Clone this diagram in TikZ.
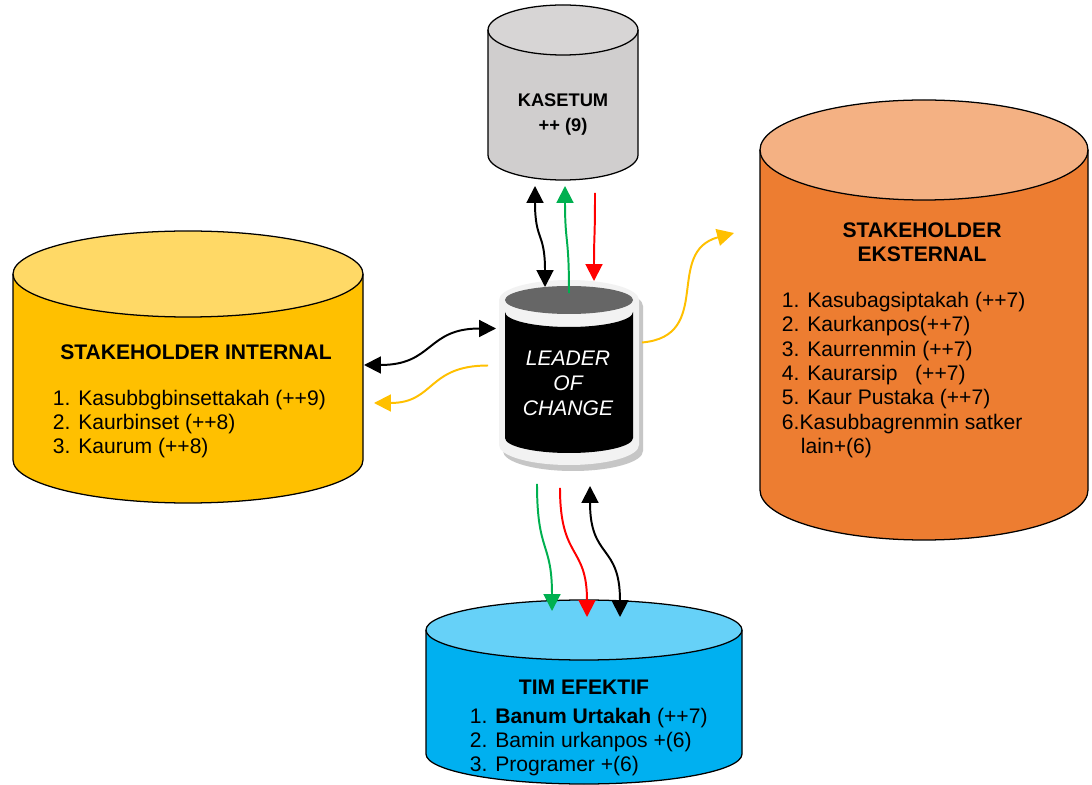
\documentclass[tikz,border=0pt]{standalone}
\usepackage{fontspec}
\setmainfont{Liberation Sans}
\usepackage{tikz}
\usetikzlibrary{calc,arrows.meta,fit}

\definecolor{kuning}{HTML}{FFC000}
\definecolor{kuningmuda}{HTML}{FFD966}
\definecolor{oranye}{HTML}{ED7D31}
\definecolor{oranyemuda}{HTML}{F4B183}
\definecolor{biru}{HTML}{00B0F0}
\definecolor{birumuda}{HTML}{66D1F8}
\definecolor{abu}{HTML}{D0CECE}
\definecolor{hijau}{HTML}{00B050}
\definecolor{merah}{HTML}{FF0000}

% drum: name, cx, top y, bottom y, rx, ry, body colour, top colour
\newcommand{\drum}[8]{%
  \fill[#7](#2-#5,#3)--(#2-#5,#4)arc[start angle=180,end angle=360,x radius=#5,y radius=#6]--(#2+#5,#3)--cycle;
  \fill[#8](#2,#3)ellipse[x radius=#5,y radius=#6];
  \draw[line width=0.9pt](#2-#5,#3)--(#2-#5,#4)arc[start angle=180,end angle=360,x radius=#5,y radius=#6]--(#2+#5,#3);
  \draw[line width=0.9pt](#2,#3)ellipse[x radius=#5,y radius=#6];
  \node[fit={(#2-#5,#3+#6)(#2+#5,#4-#6)},inner sep=0pt](#1){};
}

\tikzset{
  judul/.style={font=\fontsize{15}{17}\selectfont\bfseries,align=center},
  daftar/.style={font=\fontsize{15}{17.3}\selectfont,align=left,anchor=west,inner sep=0pt},
}

\begin{document}
\begin{tikzpicture}[x=0.025cm,y=0.025cm,>={Triangle[length=12pt,width=12pt]},line width=1.4pt]
    \fill[white](0,0)rectangle(1092,784);
    \useasboundingbox(0,0)rectangle(1092,784);
    % the four drums
    \drum{kasetum}{563}{754}{629}{75}{25}{abu}{abu!85}
    \drum{internal}{188}{510}{324}{175}{43}{kuning}{kuningmuda}
    \drum{eksternal}{924}{634}{294}{164}{50}{oranye}{oranyemuda}
    \drum{tim}{584}{154}{30}{158}{30}{biru}{birumuda}
    % leader of change
    \fill[gray!45](503,478)--(503,333)arc[start angle=180,end angle=360,x radius=70,y radius=20]--(643,478)arc[start angle=0,end angle=180,x radius=70,y radius=20]--cycle;
    \fill[gray!10](499,484)--(499,339)arc[start angle=180,end angle=360,x radius=70,y radius=20]--(639,484)arc[start angle=0,end angle=180,x radius=70,y radius=20]--cycle;
    \fill[black](505,472)arc[start angle=180,end angle=360,x radius=64,y radius=15]--(633,346)arc[start angle=360,end angle=180,x radius=64,y radius=15]--cycle;
    \fill[black!60](569,484)ellipse[x radius=64,y radius=14];
    \node[fit={(499,504)(639,319)},inner sep=0pt](leader){};
    \node[font=\fontsize{15}{17.7}\selectfont\itshape,text=white,align=center](leadertxt)at(568,401){LEADER\\OF\\CHANGE};
    % texts
    \node[judul,font=\fontsize{13}{17.7}\selectfont\bfseries](kasetumtxt)at(563,669.5){KASETUM\\++ (9)};
    \node[judul](internaljudul)at(196,432){STAKEHOLDER INTERNAL};
    \node[daftar](internaltxt)at(52,360){1. Kasubbgbinsettakah (++9)\\2. Kaurbinset (++8)\\3. Kaurum (++8)};
    \node[judul](eksternaljudul)at(922,541.5){STAKEHOLDER\\EKSTERNAL};
    \node[daftar](eksternaltxt)at(781,409){1. Kasubagsiptakah (++7)\\2. Kaurkanpos(++7)\\3. Kaurrenmin (++7)\\4. Kaurarsip\ \ \ (++7)\\5. Kaur Pustaka (++7)\\6.Kasubbagrenmin satker\\\hspace*{0.9em}lain+(6)};
    \node[judul](timjudul)at(584,97){TIM EFEKTIF};
    \node[daftar](timtxt)at(469,42){1. \textbf{Banum Urtakah} (++7)\\2. Bamin urkanpos +(6)\\3. Programer +(6)};
    % leader <-> kasetum
    \draw[<->]($(leader.north)+(-24,-8)$)to[out=90,in=-90,looseness=1.4]($(kasetum.south)+(-28,-5)$);
    \draw[->,hijau]($(leader.north)+(0,-14)$)to[out=90,in=-90,looseness=1.4]($(kasetum.south)+(2,-5)$);
    \draw[->,merah]($(kasetum.south)+(32,-12)$)to[out=-90,in=90,looseness=1.4]($(leader.north)+(25,-2)$);
    % leader <-> internal
    \draw[<->]($(internal.east)+(0,2)$)to[out=0,in=180,looseness=1.3]($(leader.west)+(-2,44)$);
    \draw[->,kuning]($(leader.west)+(-10,7)$)to[out=180,in=0,looseness=1.3]($(internal.east)+(10,-36)$);
    % leader -> eksternal
    \draw[->,kuning]($(leader.east)+(2,30)$)to[out=5,in=195,looseness=1.3]($(eksternal.west)+(-25,87)$);
    % leader <-> tim
    \draw[->,hijau]($(leader.south)+(-32,-18)$)to[out=-90,in=90,looseness=1.4]($(tim.north)+(-32,-12)$);
    \draw[->,merah]($(leader.south)+(-9,-22)$)to[out=-90,in=90,looseness=1.4]($(tim.north)+(3,-18)$);
    \draw[<->]($(leader.south)+(21,-20)$)to[out=-90,in=90,looseness=1.4]($(tim.north)+(36,-18)$);
\end{tikzpicture}
\end{document}
